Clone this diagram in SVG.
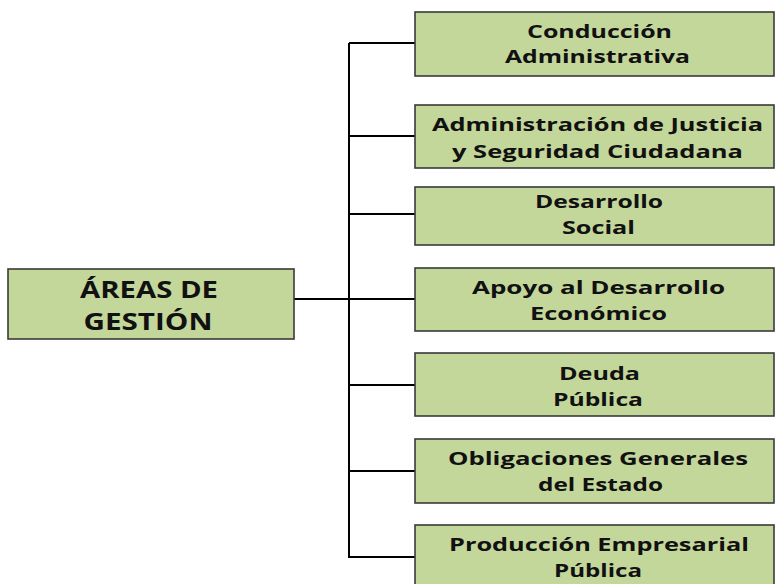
<svg xmlns="http://www.w3.org/2000/svg" width="775" height="584" viewBox="0 0 775 584">
<style>
.box{fill:#c4d79b;stroke:#3a3a3a;stroke-width:1.6}
.t{font-family:"Open Sans","Liberation Sans",sans-serif;font-weight:700;font-size:18px;fill:#111;text-anchor:middle}
.tl{font-size:22.5px}
.c{stroke:#000;stroke-width:2;fill:none}
</style>
<rect width="775" height="584" fill="#fff"/>
<g id="connectors">
<line class="c" x1="349" y1="43" x2="349" y2="557"/>
<line class="c" x1="294" y1="299" x2="349" y2="299"/>
<line class="c" x1="349" y1="43" x2="415" y2="43"/>
<line class="c" x1="349" y1="136" x2="415" y2="136"/>
<line class="c" x1="349" y1="214" x2="415" y2="214"/>
<line class="c" x1="349" y1="299" x2="415" y2="299"/>
<line class="c" x1="349" y1="385" x2="415" y2="385"/>
<line class="c" x1="349" y1="471" x2="415" y2="471"/>
<line class="c" x1="348" y1="557" x2="415" y2="557"/>
</g>
<g id="root">
<rect class="box" x="8" y="269" width="286" height="70"/>
<text class="t tl" x="149" y="298" textLength="138" lengthAdjust="spacingAndGlyphs">ÁREAS DE</text>
<text class="t tl" x="148" y="330" textLength="129" lengthAdjust="spacingAndGlyphs">GESTIÓN</text>
</g>
<g id="n1">
<rect class="box" x="415" y="12" width="359" height="64"/>
<text class="t" x="599.5" y="38" textLength="145" lengthAdjust="spacingAndGlyphs">Conducción</text>
<text class="t" x="597.5" y="63" textLength="185" lengthAdjust="spacingAndGlyphs">Administrativa</text>
</g>
<g id="n2">
<rect class="box" x="415" y="105" width="359" height="63"/>
<text class="t" x="597.5" y="131" textLength="331" lengthAdjust="spacingAndGlyphs">Administración de Justicia</text>
<text class="t" x="597.5" y="158" textLength="291" lengthAdjust="spacingAndGlyphs">y Seguridad Ciudadana</text>
</g>
<g id="n3">
<rect class="box" x="415" y="187" width="359" height="58"/>
<text class="t" x="599" y="208" textLength="128" lengthAdjust="spacingAndGlyphs">Desarrollo</text>
<text class="t" x="598.5" y="234" textLength="73" lengthAdjust="spacingAndGlyphs">Social</text>
</g>
<g id="n4">
<rect class="box" x="415" y="268" width="359" height="63"/>
<text class="t" x="598.5" y="294" textLength="253" lengthAdjust="spacingAndGlyphs">Apoyo al Desarrollo</text>
<text class="t" x="598.5" y="320" textLength="137" lengthAdjust="spacingAndGlyphs">Económico</text>
</g>
<g id="n5">
<rect class="box" x="415" y="353" width="359" height="63"/>
<text class="t" x="599.5" y="380" textLength="81" lengthAdjust="spacingAndGlyphs">Deuda</text>
<text class="t" x="598" y="406" textLength="90" lengthAdjust="spacingAndGlyphs">Pública</text>
</g>
<g id="n6">
<rect class="box" x="415" y="439" width="359" height="64"/>
<text class="t" x="598" y="465" textLength="300" lengthAdjust="spacingAndGlyphs">Obligaciones Generales</text>
<text class="t" x="600.5" y="491" textLength="125" lengthAdjust="spacingAndGlyphs">del Estado</text>
</g>
<g id="n7">
<rect class="box" x="415" y="525" width="359" height="64"/>
<text class="t" x="599" y="551" textLength="300" lengthAdjust="spacingAndGlyphs">Producción Empresarial</text>
<text class="t" x="598" y="577" textLength="88" lengthAdjust="spacingAndGlyphs">Pública</text>
</g>
</svg>
